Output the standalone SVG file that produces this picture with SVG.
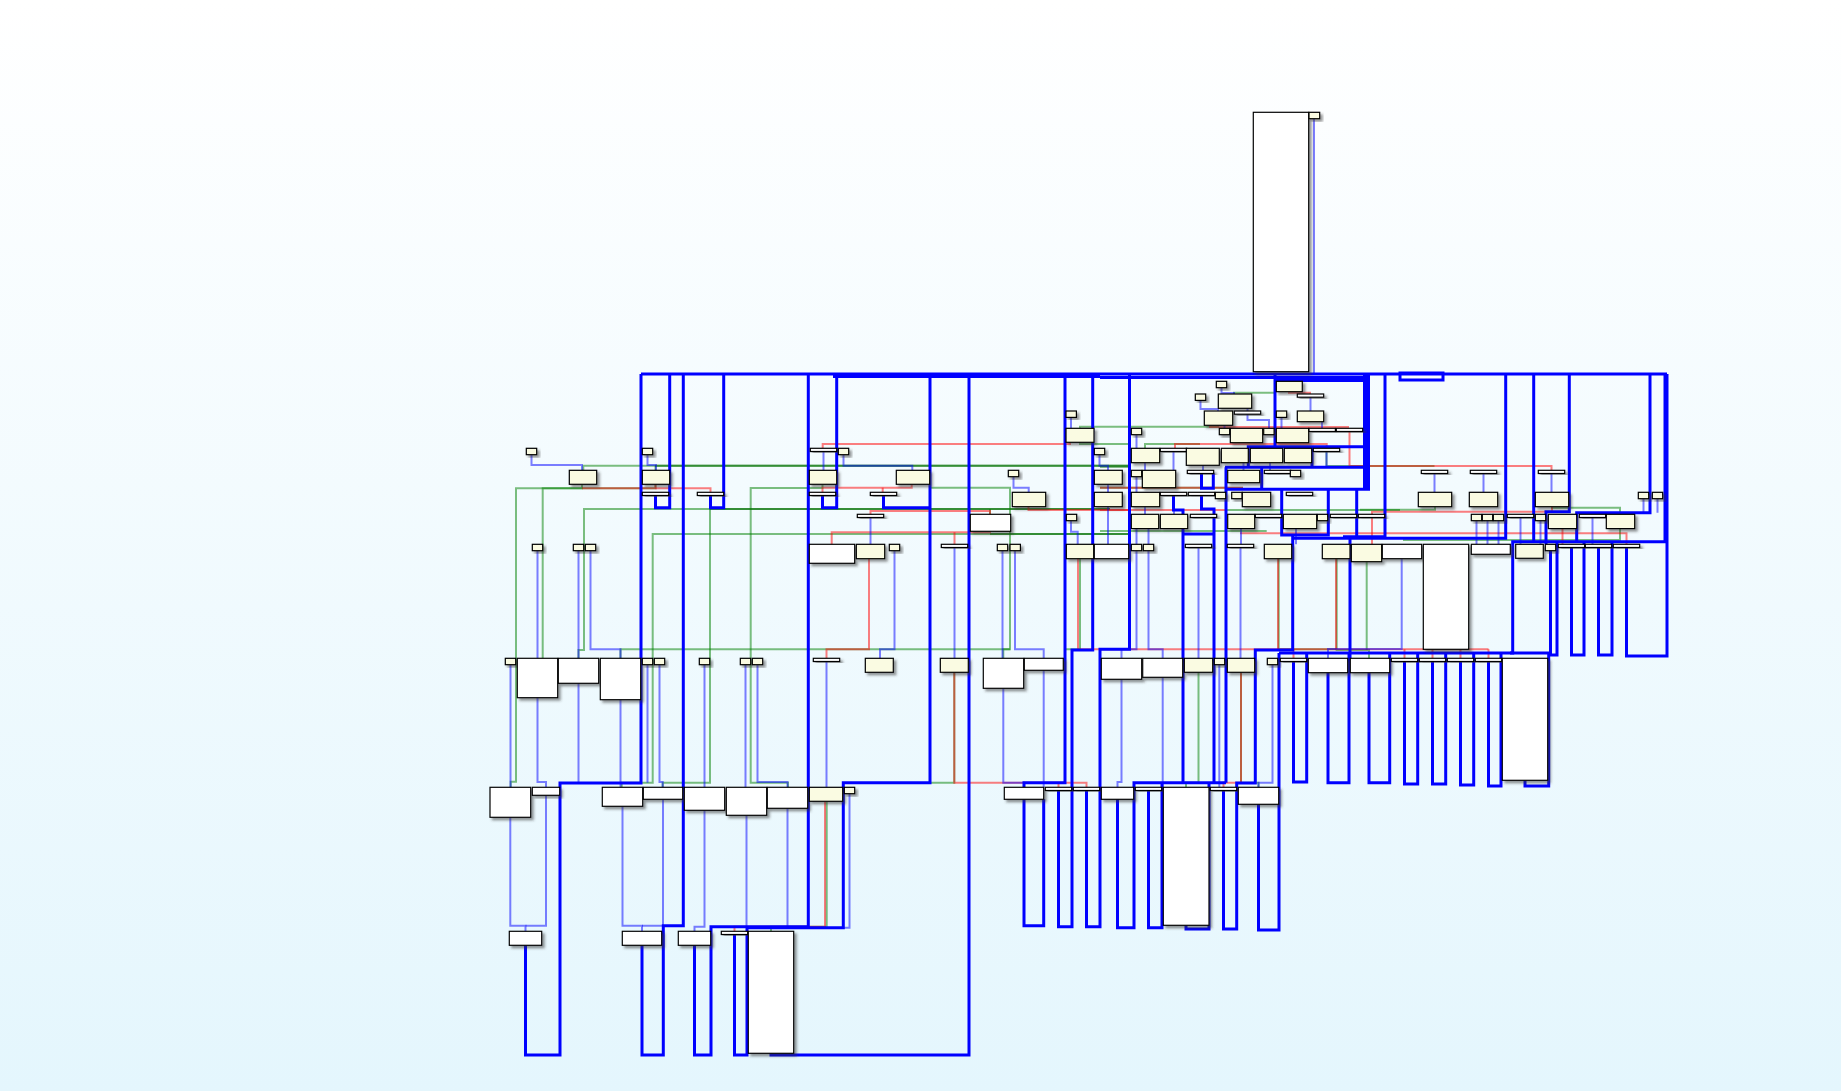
<svg xmlns="http://www.w3.org/2000/svg" width="1841" height="1091" viewBox="0 0 1841 1091">
<defs>
<linearGradient id="bg" x1="0" y1="0" x2="0" y2="1"><stop offset="0" stop-color="#ffffff"/><stop offset="1" stop-color="#e4f6fd"/></linearGradient>
<filter id="ds" x="-20%" y="-20%" width="160%" height="160%"><feDropShadow dx="2.5" dy="2.5" stdDeviation="1" flood-color="#333" flood-opacity="0.5"/></filter>
<style>
.w{fill:#fff;stroke:#000;stroke-width:1.2}
.y{fill:#fafbe2;stroke:#000;stroke-width:1.2}
.nd{filter:url(#ds)}
.B{fill:none;stroke:#00f;stroke-width:3}
.L{fill:none;stroke:#00f;stroke-opacity:.5;stroke-width:2}
.G{fill:none;stroke:#008000;stroke-opacity:.5;stroke-width:2}
.R{fill:none;stroke:#f00;stroke-opacity:.5;stroke-width:2}
.D{fill:none;stroke:#1e7e1e;stroke-opacity:.75;stroke-width:2}
</style>
</defs>
<rect width="1841" height="1091" fill="url(#bg)"/>
<g id="connectors">
<path class="G" d="M583.3,470.3V465.7H1131"/>
<path class="D" d="M655,465.7H1131"/>
<path class="G" d="M655.5,465.7V470.3"/>
<path class="G" d="M582,484.3V488.3H516V781.7H510.7V787.3"/>
<path class="G" d="M655.5,484.3V488.3H542.7V658.3"/>
<path class="G" d="M1110,509H584V650H578.5V658.3"/>
<path class="D" d="M710,509H1110"/>
<path class="G" d="M1130,534H652.7V782.7H621.7V787.3"/>
<path class="D" d="M990,534H1130"/>
<path class="G" d="M822.5,484.3V488H750.7V782.7H788V787.3"/>
<path class="G" d="M710,509V782.7H662.7V787.3"/>
<path class="G" d="M929.7,487.7H1010V649.3H620.5V658.3"/>
<path class="G" d="M1010,649.3H1003.3V658.3"/>
<path class="G" d="M1080,442.3V444H1131"/>
<path class="G" d="M990,509V514.3"/>
<path class="G" d="M954.3,672.3V782.7H931"/>
<path class="G" d="M826.7,801.3V926.7H771V931.3"/>
<path class="G" d="M1198.5,672.3V782.7H1186V787.3"/>
<path class="G" d="M1241,672.3V782.7H1258.5V787.3"/>
<path class="G" d="M1336.7,558.7V650H1369V658.3"/>
<path class="G" d="M1366.7,561.7V650"/>
<path class="G" d="M1234,394V392.7H1275"/>
<path class="G" d="M1218,425.3V426.7H1080V428.3"/>
<path class="G" d="M1145,448.3V444H1200"/>
<path class="D" d="M1100,466.7H1131"/>
<path class="G" d="M1100,487.7H1243"/>
<path class="G" d="M1227,510H1400"/>
<path class="G" d="M1100,531H1266.7"/>
<path class="G" d="M1326.5,451.3V466H1434.5"/>
<path class="G" d="M1435,506.7V509.7H1360"/>
<path class="G" d="M1552,506.7V507.7H1620V514.3"/>
<path class="G" d="M1080,558.7V649.3H1065"/>
<path class="G" d="M1278.7,558.7V649.3H1336"/>
<path class="G" d="M1620,528.3V540H1403"/>
<path class="R" d="M1070,442.3V444H822.7V448.3"/>
<path class="R" d="M655.5,484.3V488.3H582"/>
<path class="R" d="M655.5,488.3H710.5V492.3"/>
<path class="R" d="M911.7,484.3V487.7H822.5V492.3"/>
<path class="R" d="M882.7,487.7V492.3"/>
<path class="R" d="M870.5,514.3V511H990V514.3"/>
<path class="R" d="M1028.5,506.7V510H1131"/>
<path class="R" d="M990,531.3V532.3H831.7V544.3"/>
<path class="R" d="M954.5,532.3V544.3"/>
<path class="R" d="M869,558.7V649.3H826.5V658.3"/>
<path class="R" d="M954.3,672.3V782.7H1086.5V787.3"/>
<path class="R" d="M1058.5,782.7V787.3"/>
<path class="R" d="M825,801.3V926.7H734.5V931.3"/>
<path class="R" d="M1078,558.7V649.3H1488.5"/>
<path class="R" d="M1293.5,649.3V658.3M1404.5,649.3V658.3M1432.5,649.3V658.3M1460.5,649.3V658.3M1488.5,649.3V658.3"/>
<path class="R" d="M1241,672.3V782.7H1223.5V787.3"/>
<path class="R" d="M1289,391.7V392.7H1310V394"/>
<path class="R" d="M1210,425.3V427H1348V428.3"/>
<path class="R" d="M1246.5,442.7V444H1175V448.3M1246.5,444H1326.7V448.3"/>
<path class="R" d="M1100,487.7H1243"/>
<path class="R" d="M1100,510H1227"/>
<path class="R" d="M1240,533.3H1626.5V544.3"/>
<path class="R" d="M1349.5,431.3V466H1551.5V470.3"/>
<path class="R" d="M1552,506.7V511.7H1372V544.3"/>
<path class="R" d="M1278,558.7V649.3"/>
<path class="R" d="M1336,558.7V649.3"/>
<path class="R" d="M1562.5,528.3V544.3"/>
<path class="L" d="M1314,118.7V374"/>
<path class="L" d="M531.5,454.3V465H582V470.3"/>
<path class="L" d="M647.5,454.3V465H656V470.3"/>
<path class="L" d="M843.5,454.3V465.7H912.3V470.3"/>
<path class="L" d="M823.5,451.3V470.3"/>
<path class="L" d="M1013.5,476.3V487.7H1028.7V492.3"/>
<path class="L" d="M870.5,517.3V544.3"/>
<path class="L" d="M894.5,550.3V649.3H880V658.3"/>
<path class="L" d="M954.5,547.3V658.3"/>
<path class="L" d="M1002.5,550.3V658.3"/>
<path class="L" d="M1015,550.3V649.3H1043.7V658.3"/>
<path class="L" d="M1071,520.3V531.7H1077.7V544.3"/>
<path class="L" d="M1136.5,550.3V649.3H1121.5V658.3"/>
<path class="L" d="M1148.5,550.3V649.3H1162.7V658.3"/>
<path class="L" d="M1198.5,547.3V658.3"/>
<path class="L" d="M1240.5,547.3V658.3"/>
<path class="L" d="M1401.7,558.7V649H1328V658.3"/>
<path class="L" d="M1003.3,688.3V782.7H1024V787.3"/>
<path class="L" d="M1043.7,670.3V787.3"/>
<path class="L" d="M1121.5,679.3V782H1117.5V787.3"/>
<path class="L" d="M1162.7,677.3V787.3"/>
<path class="L" d="M1219.3,664.3V787.3"/>
<path class="L" d="M1272.5,664.3V782.7H1258.5V787.3"/>
<path class="L" d="M510.5,664.7V787.3"/>
<path class="L" d="M537.5,697.7V782H546V787.3"/>
<path class="L" d="M578.5,683.3V782.7"/>
<path class="L" d="M620.5,699.7V787.3"/>
<path class="L" d="M647.5,664.7V782.7"/>
<path class="L" d="M659.5,664.7V782H662.7V787.3"/>
<path class="L" d="M704.5,664.7V787.3"/>
<path class="L" d="M745.5,664.7V787.3"/>
<path class="L" d="M757.5,664.7V782H787.5V787.3"/>
<path class="L" d="M826.5,661.3V787.3"/>
<path class="L" d="M510.3,817.3V925.7H525.5V931.3"/>
<path class="L" d="M546,795.3V925.7H525.5"/>
<path class="L" d="M622.5,806.3V925.7H642V931.3"/>
<path class="L" d="M663,799.3V925.7H642"/>
<path class="L" d="M704.5,810.3V926.7H694.5V931.3"/>
<path class="L" d="M746.5,815.3V926.7"/>
<path class="L" d="M787.5,808.3V926.7"/>
<path class="L" d="M849.5,793.3V927.7H843.3"/>
<path class="L" d="M537.5,550.3V658.3"/>
<path class="L" d="M578.5,550.3V658.3"/>
<path class="L" d="M590.5,550.3V649.3H620.5V658.3"/>
<path class="L" d="M1099.5,454.3V465.7H1108V470.3"/>
<path class="L" d="M1108,484.3V492.3"/>
<path class="L" d="M1108,506.7V544.3"/>
<path class="L" d="M1221.5,387.3V393H1234V394"/>
<path class="L" d="M1200.5,400.3V409H1218V411"/>
<path class="L" d="M1310.5,397.3V411"/>
<path class="L" d="M1247.5,408.3V411"/>
<path class="L" d="M1281.5,417.3V428.3"/>
<path class="L" d="M1224.5,425.3V428.3"/>
<path class="L" d="M1247.5,414.3V420H1269V428.3"/>
<path class="L" d="M1322,421.7V428.3"/>
<path class="L" d="M1136.5,434.7V448.3"/>
<path class="L" d="M1203,465.3V470.3"/>
<path class="L" d="M1243.5,462.7V470.3"/>
<path class="L" d="M1270,462.7V470.3"/>
<path class="L" d="M1326.5,451.3V467"/>
<path class="L" d="M1434.5,473.3V492.3M1483.5,473.3V492.3M1551.5,473.3V492.3"/>
<path class="L" d="M1476.5,520.3V544.3M1487.5,520.3V544.3M1498.5,520.3V544.3"/>
<path class="L" d="M1520.5,517.3V544.3M1540.5,520.3V544.3M1592.5,517.3V544.3"/>
<path class="L" d="M1643.5,498.7V512.7M1657.5,498.7V512.7"/>
<path class="L" d="M1071,417.3V428.3"/>
<path class="L" d="M1136.5,476.7V492.3M1145,462.7V470.3M1145,506.7V514.3M1136.5,528.3V544.3M1148.5,528.3V544.3M1174,506.7V514.3M1241,528.3V544.3M1296,528.3V544.3M1173.5,451.3V470.3"/>
<path class="B" d="M641,374H1667"/>
<path class="B" d="M833,376.5H1100"/>
<path class="B" d="M1100,377.5H1370"/>
<path class="B" d="M1275,380.5H1370"/>
<path class="B" d="M1400,373H1443V380H1400Z"/>
<path class="B" d="M525.5,945.3V1055H560V783H641V374"/>
<path class="B" d="M655.5,495.3V507.7H669.7V374"/>
<path class="B" d="M642,945.3V1055H663.3V925.7H683.3V374"/>
<path class="B" d="M710.5,495.3V507.7H723.7V374"/>
<path class="B" d="M822.5,495.3V507.7H836.7V374"/>
<path class="B" d="M883.5,495.3V507.7H930"/>
<path class="B" d="M694.5,945.3V1055H711V926.7H808.3V374"/>
<path class="B" d="M734.5,934.3V1055H747V927.7H843.3V782.7H930V374"/>
<path class="B" d="M771,1053.3V1055H969V374"/>
<path class="B" d="M1065,374V782.7H1024V787.3"/>
<path class="B" d="M1058.5,790.3V926.7H1072V650H1092.7V374"/>
<path class="B" d="M1086.5,790.3V926.7H1100V649.3H1129.5V374"/>
<path class="B" d="M1024,799.3V925.7H1043.7V799.3"/>
<path class="B" d="M1117.5,799.3V927.7H1134V782.7H1226"/>
<path class="B" d="M1148.5,790.3V927.7H1162V782.7"/>
<path class="B" d="M1186,925.3V929H1209V782.7"/>
<path class="B" d="M1173.5,495.3V510H1183V782.7"/>
<path class="B" d="M1201.5,495.3V509H1214V782.7"/>
<path class="B" d="M1183,534H1214"/>
<path class="B" d="M1201.5,473.3V488.3H1213.3V473.3"/>
<path class="B" d="M1226,467.3V782.7"/>
<path class="B" d="M1225,467.3H1368"/>
<path class="B" d="M1226,489.3H1370"/>
<path class="B" d="M1261.7,467.3V489.3"/>
<path class="B" d="M1248.3,467.3V446.7H1366"/>
<path class="B" d="M1312,446.7V467.3"/>
<path class="B" d="M1275,374V446.7"/>
<path class="B" d="M1366.5,374V490" style="stroke-width:7"/>
<path class="B" d="M1281.7,489.3V535H1328.3V489.3"/>
<path class="B" d="M1292.7,535V650H1255.3V783H1236.7V929H1223.5V790.3"/>
<path class="B" d="M1258.5,804.3V930H1279V653"/>
<path class="B" d="M1356.7,489.3V536.7H1385V374"/>
<path class="B" d="M1343,536.7H1356.7M1350,536.7V658.3"/>
<path class="B" d="M1505.7,374V538.3H1292.7"/>
<path class="B" d="M1533.7,374V541.7"/>
<path class="B" d="M1665,374V541.7H1512.7V653H1279"/>
<path class="B" d="M1569.3,374V511.7H1546V544.3"/>
<path class="B" d="M1650,374V512.7H1576.7V541.7"/>
<path class="B" d="M1571.5,547.3V655H1584V541.7"/>
<path class="B" d="M1598.5,547.3V655H1612V541.7"/>
<path class="B" d="M1626.5,547.3V656H1667V374"/>
<path class="B" d="M1550.5,550.7V655H1557V541.7"/>
<path class="B" d="M1293.5,661.3V782H1306.7V653M1328,672.7V782.7H1349V653M1369,672.7V782.7H1389.7V653M1404.5,661.3V784H1417.7V653M1432.5,661.3V784H1445.7V653M1460.5,661.3V785H1473.7V653M1488.5,661.3V786H1501V653M1525,780.3V786H1548.7V653H1510"/>
</g>
<g id="nodes">
<g id="n1" class="nd"><rect class="w" x="1253.3" y="112.3" width="55.4" height="259.4"/></g>
<g id="n2" class="nd"><rect class="y" x="1309" y="112.3" width="10.7" height="6.4"/></g>
<g id="n3" class="nd"><rect class="y" x="1216.3" y="381.3" width="10.4" height="6.4"/></g>
<g id="n4" class="nd"><rect class="y" x="1276.3" y="381.3" width="26" height="10.4"/></g>
<g id="n5" class="nd"><rect class="y" x="1195.3" y="394" width="10.4" height="6.4"/></g>
<g id="n6" class="nd"><rect class="y" x="1218.3" y="394" width="33.4" height="14.3"/></g>
<g id="n7" class="nd"><rect class="w" x="1297.3" y="394" width="26.4" height="3.2"/></g>
<g id="n8" class="nd"><rect class="y" x="1066" y="411" width="10.4" height="6.4"/></g>
<g id="n9" class="nd"><rect class="y" x="1204.3" y="411" width="28.4" height="14.3"/></g>
<g id="n10" class="nd"><rect class="w" x="1234.3" y="411" width="26.4" height="3.2"/></g>
<g id="n11" class="nd"><rect class="y" x="1276.3" y="411" width="10.4" height="6.4"/></g>
<g id="n12" class="nd"><rect class="y" x="1297.3" y="411" width="26.4" height="10.7"/></g>
<g id="n13" class="nd"><rect class="y" x="1066" y="428.3" width="28" height="14"/></g>
<g id="n14" class="nd"><rect class="y" x="1131.3" y="428.3" width="10.4" height="6.4"/></g>
<g id="n15" class="nd"><rect class="y" x="1219.3" y="428.3" width="10.4" height="6.4"/></g>
<g id="n16" class="nd"><rect class="y" x="1230.3" y="428.3" width="32.4" height="14.4"/></g>
<g id="n17" class="nd"><rect class="y" x="1263.7" y="428.3" width="10.4" height="6.4"/></g>
<g id="n18" class="nd"><rect class="y" x="1276.3" y="428.3" width="32.4" height="14.4"/></g>
<g id="n19" class="nd"><rect class="w" x="1309" y="428.3" width="26.4" height="3.2"/></g>
<g id="n20" class="nd"><rect class="w" x="1336.3" y="428.3" width="26.4" height="3.2"/></g>
<g id="n21" class="nd"><rect class="y" x="526.3" y="448.3" width="10.4" height="6.4"/></g>
<g id="n22" class="nd"><rect class="y" x="642.3" y="448.3" width="10.4" height="6.4"/></g>
<g id="n23" class="nd"><rect class="w" x="810.3" y="448.3" width="26.4" height="3.2"/></g>
<g id="n24" class="nd"><rect class="y" x="838.3" y="448.3" width="10.4" height="6.4"/></g>
<g id="n25" class="nd"><rect class="y" x="1094.3" y="448.3" width="10.4" height="6.4"/></g>
<g id="n26" class="nd"><rect class="y" x="1131.3" y="448.3" width="28.4" height="14.4"/></g>
<g id="n27" class="nd"><rect class="w" x="1160.3" y="448.3" width="26.4" height="3.2"/></g>
<g id="n28" class="nd"><rect class="y" x="1186.3" y="448.3" width="33" height="17"/></g>
<g id="n29" class="nd"><rect class="y" x="1221.3" y="448.3" width="27" height="14.4"/></g>
<g id="n30" class="nd"><rect class="y" x="1250.3" y="448.3" width="32.4" height="14.4"/></g>
<g id="n31" class="nd"><rect class="y" x="1284.3" y="448.3" width="27.4" height="14.4"/></g>
<g id="n32" class="nd"><rect class="w" x="1313.3" y="448.3" width="26.4" height="3.2"/></g>
<g id="n33" class="nd"><rect class="y" x="569.3" y="470.3" width="27.4" height="14"/></g>
<g id="n34" class="nd"><rect class="y" x="642.3" y="470.3" width="27.4" height="14"/></g>
<g id="n35" class="nd"><rect class="y" x="809.3" y="470.3" width="27.4" height="14"/></g>
<g id="n36" class="nd"><rect class="y" x="896.3" y="470.3" width="33.4" height="14"/></g>
<g id="n37" class="nd"><rect class="y" x="1008.3" y="470.3" width="10.4" height="6.4"/></g>
<g id="n38" class="nd"><rect class="y" x="1094.3" y="470.3" width="28" height="14"/></g>
<g id="n39" class="nd"><rect class="y" x="1131.3" y="470.3" width="10.4" height="6.4"/></g>
<g id="n40" class="nd"><rect class="y" x="1142.3" y="470.3" width="33.4" height="17.4"/></g>
<g id="n41" class="nd"><rect class="w" x="1187.3" y="470.3" width="26.4" height="3.2"/></g>
<g id="n42" class="nd"><rect class="y" x="1227.7" y="470.3" width="32" height="12.4"/></g>
<g id="n43" class="nd"><rect class="w" x="1264.3" y="470.3" width="26.4" height="3.2"/></g>
<g id="n44" class="nd"><rect class="y" x="1290.3" y="470.3" width="10.4" height="6.4"/></g>
<g id="n45" class="nd"><rect class="w" x="1421.3" y="470.3" width="26.4" height="3.2"/></g>
<g id="n46" class="nd"><rect class="w" x="1470.3" y="470.3" width="26.4" height="3.2"/></g>
<g id="n47" class="nd"><rect class="w" x="1538.3" y="470.3" width="26.4" height="3.2"/></g>
<g id="n48" class="nd"><rect class="w" x="642.3" y="492.3" width="26.4" height="3.2"/></g>
<g id="n49" class="nd"><rect class="w" x="697.3" y="492.3" width="26.4" height="3.2"/></g>
<g id="n50" class="nd"><rect class="w" x="809.3" y="492.3" width="26.4" height="3.2"/></g>
<g id="n51" class="nd"><rect class="w" x="870.3" y="492.3" width="26.4" height="3.2"/></g>
<g id="n52" class="nd"><rect class="y" x="1012.3" y="492.3" width="33.4" height="14.4"/></g>
<g id="n53" class="nd"><rect class="y" x="1094.3" y="492.3" width="28" height="14.4"/></g>
<g id="n54" class="nd"><rect class="y" x="1131.3" y="492.3" width="28.4" height="14.4"/></g>
<g id="n55" class="nd"><rect class="w" x="1160.3" y="492.3" width="26.4" height="3.2"/></g>
<g id="n56" class="nd"><rect class="w" x="1188.3" y="492.3" width="26.4" height="3.2"/></g>
<g id="n57" class="nd"><rect class="y" x="1215.3" y="492.3" width="10.4" height="6.4"/></g>
<g id="n58" class="nd"><rect class="y" x="1231.7" y="492.3" width="10.4" height="6.4"/></g>
<g id="n59" class="nd"><rect class="y" x="1242.3" y="492.3" width="28.4" height="14.4"/></g>
<g id="n60" class="nd"><rect class="w" x="1286.3" y="492.3" width="26.4" height="3.2"/></g>
<g id="n61" class="nd"><rect class="y" x="1418.3" y="492.3" width="33.4" height="14.4"/></g>
<g id="n62" class="nd"><rect class="y" x="1469.3" y="492.3" width="28.4" height="14.4"/></g>
<g id="n63" class="nd"><rect class="y" x="1535.3" y="492.3" width="33.4" height="14.4"/></g>
<g id="n64" class="nd"><rect class="y" x="1638.3" y="492.3" width="10.4" height="6.4"/></g>
<g id="n65" class="nd"><rect class="y" x="1652.3" y="492.3" width="10.4" height="6.4"/></g>
<g id="n66" class="nd"><rect class="w" x="857.3" y="514.3" width="26.4" height="3.2"/></g>
<g id="n67" class="nd"><rect class="w" x="970.3" y="514.3" width="40.4" height="17"/></g>
<g id="n68" class="nd"><rect class="y" x="1066.3" y="514.3" width="10.4" height="6.4"/></g>
<g id="n69" class="nd"><rect class="y" x="1131.3" y="514.3" width="27.4" height="14.3"/></g>
<g id="n70" class="nd"><rect class="y" x="1160.3" y="514.3" width="27.4" height="14.3"/></g>
<g id="n71" class="nd"><rect class="w" x="1190.3" y="514.3" width="26.4" height="3.2"/></g>
<g id="n72" class="nd"><rect class="y" x="1227.7" y="514.3" width="27" height="14.3"/></g>
<g id="n73" class="nd"><rect class="w" x="1255.3" y="514.3" width="26.4" height="3.2"/></g>
<g id="n74" class="nd"><rect class="y" x="1283.3" y="514.3" width="33.4" height="14.3"/></g>
<g id="n75" class="nd"><rect class="y" x="1317.3" y="514.3" width="10.4" height="6.4"/></g>
<g id="n76" class="nd"><rect class="w" x="1330.3" y="514.3" width="26.4" height="3.2"/></g>
<g id="n77" class="nd"><rect class="w" x="1358.3" y="514.3" width="26.4" height="3.2"/></g>
<g id="n78" class="nd"><rect class="y" x="1471.3" y="514.3" width="10.4" height="6.4"/></g>
<g id="n79" class="nd"><rect class="y" x="1482.3" y="514.3" width="10.4" height="6.4"/></g>
<g id="n80" class="nd"><rect class="y" x="1493.3" y="514.3" width="10.4" height="6.4"/></g>
<g id="n81" class="nd"><rect class="w" x="1507.3" y="514.3" width="26.4" height="3.2"/></g>
<g id="n82" class="nd"><rect class="y" x="1535.3" y="514.3" width="10.4" height="6.4"/></g>
<g id="n83" class="nd"><rect class="y" x="1548.3" y="514.3" width="28.4" height="14.3"/></g>
<g id="n84" class="nd"><rect class="w" x="1579.3" y="514.3" width="26.4" height="3.2"/></g>
<g id="n85" class="nd"><rect class="y" x="1606.3" y="514.3" width="28.4" height="14.3"/></g>
<g id="n86" class="nd"><rect class="y" x="532.3" y="544.3" width="10.4" height="6.4"/></g>
<g id="n87" class="nd"><rect class="y" x="573.3" y="544.3" width="10.4" height="6.4"/></g>
<g id="n88" class="nd"><rect class="y" x="585.3" y="544.3" width="10.4" height="6.4"/></g>
<g id="n89" class="nd"><rect class="w" x="809.3" y="544.3" width="45.4" height="19"/></g>
<g id="n90" class="nd"><rect class="y" x="856.3" y="544.3" width="28.4" height="14.4"/></g>
<g id="n91" class="nd"><rect class="y" x="889.3" y="544.3" width="10.4" height="6.4"/></g>
<g id="n92" class="nd"><rect class="w" x="941.3" y="544.3" width="26.4" height="3.2"/></g>
<g id="n93" class="nd"><rect class="y" x="997.3" y="544.3" width="10.4" height="6.4"/></g>
<g id="n94" class="nd"><rect class="y" x="1010" y="544.3" width="10.4" height="6.4"/></g>
<g id="n95" class="nd"><rect class="y" x="1066.3" y="544.3" width="27.4" height="14.4"/></g>
<g id="n96" class="nd"><rect class="w" x="1094.3" y="544.3" width="34.4" height="14.4"/></g>
<g id="n97" class="nd"><rect class="y" x="1131.3" y="544.3" width="10.4" height="6.4"/></g>
<g id="n98" class="nd"><rect class="y" x="1143.3" y="544.3" width="10.4" height="6.4"/></g>
<g id="n99" class="nd"><rect class="w" x="1185.3" y="544.3" width="26.4" height="3.2"/></g>
<g id="n100" class="nd"><rect class="w" x="1227.3" y="544.3" width="26.4" height="3.2"/></g>
<g id="n101" class="nd"><rect class="y" x="1264.3" y="544.3" width="27.4" height="14.4"/></g>
<g id="n102" class="nd"><rect class="y" x="1322.3" y="544.3" width="27.7" height="14.4"/></g>
<g id="n103" class="nd"><rect class="y" x="1351.3" y="544.3" width="30.4" height="17.4"/></g>
<g id="n104" class="nd"><rect class="w" x="1382.3" y="544.3" width="39.4" height="14.4"/></g>
<g id="n105" class="nd"><rect class="w" x="1423.3" y="544.3" width="45.4" height="105"/></g>
<g id="n106" class="nd"><rect class="w" x="1471.3" y="544.3" width="39" height="10"/></g>
<g id="n107" class="nd"><rect class="y" x="1515.7" y="544.3" width="27.6" height="14"/></g>
<g id="n108" class="nd"><rect class="y" x="1545.3" y="544.3" width="10.4" height="6.4"/></g>
<g id="n109" class="nd"><rect class="w" x="1558.3" y="544.3" width="26.4" height="3.2"/></g>
<g id="n110" class="nd"><rect class="w" x="1585.3" y="544.3" width="26.4" height="3.2"/></g>
<g id="n111" class="nd"><rect class="w" x="1613.3" y="544.3" width="26.4" height="3.2"/></g>
<g id="n112" class="nd"><rect class="y" x="505.3" y="658.3" width="10.4" height="6.4"/></g>
<g id="n113" class="nd"><rect class="w" x="517.3" y="658.3" width="40.4" height="39.4"/></g>
<g id="n114" class="nd"><rect class="w" x="558.3" y="658.3" width="40.4" height="25"/></g>
<g id="n115" class="nd"><rect class="w" x="600.3" y="658.3" width="40.4" height="41.4"/></g>
<g id="n116" class="nd"><rect class="y" x="642.3" y="658.3" width="10.4" height="6.4"/></g>
<g id="n117" class="nd"><rect class="y" x="654.3" y="658.3" width="10.4" height="6.4"/></g>
<g id="n118" class="nd"><rect class="y" x="699.3" y="658.3" width="10.4" height="6.4"/></g>
<g id="n119" class="nd"><rect class="y" x="740.3" y="658.3" width="10.4" height="6.4"/></g>
<g id="n120" class="nd"><rect class="y" x="752.3" y="658.3" width="10.4" height="6.4"/></g>
<g id="n121" class="nd"><rect class="w" x="813.3" y="658.3" width="26.4" height="3.2"/></g>
<g id="n122" class="nd"><rect class="y" x="865.3" y="658.3" width="28" height="14"/></g>
<g id="n123" class="nd"><rect class="y" x="940.3" y="658.3" width="28" height="14"/></g>
<g id="n124" class="nd"><rect class="w" x="983.3" y="658.3" width="40.4" height="30"/></g>
<g id="n125" class="nd"><rect class="w" x="1024.3" y="658.3" width="39" height="12"/></g>
<g id="n126" class="nd"><rect class="w" x="1101.3" y="658.3" width="40.4" height="21"/></g>
<g id="n127" class="nd"><rect class="w" x="1142.7" y="658.3" width="40" height="19"/></g>
<g id="n128" class="nd"><rect class="y" x="1184.3" y="658.3" width="28.4" height="14"/></g>
<g id="n129" class="nd"><rect class="y" x="1214.3" y="658.3" width="10.4" height="6.4"/></g>
<g id="n130" class="nd"><rect class="y" x="1227.3" y="658.3" width="27.4" height="14"/></g>
<g id="n131" class="nd"><rect class="y" x="1267.3" y="658.3" width="10.4" height="6.4"/></g>
<g id="n132" class="nd"><rect class="w" x="1280.3" y="658.3" width="26.4" height="3.2"/></g>
<g id="n133" class="nd"><rect class="w" x="1308.3" y="658.3" width="39.4" height="14.4"/></g>
<g id="n134" class="nd"><rect class="w" x="1350.3" y="658.3" width="39.4" height="14.4"/></g>
<g id="n135" class="nd"><rect class="w" x="1391.3" y="658.3" width="26.4" height="3.2"/></g>
<g id="n136" class="nd"><rect class="w" x="1419.3" y="658.3" width="26.4" height="3.2"/></g>
<g id="n137" class="nd"><rect class="w" x="1447.3" y="658.3" width="26.4" height="3.2"/></g>
<g id="n138" class="nd"><rect class="w" x="1475.3" y="658.3" width="26.4" height="3.2"/></g>
<g id="n139" class="nd"><rect class="w" x="1502.3" y="658.3" width="45.4" height="122"/></g>
<g id="n140" class="nd"><rect class="w" x="490" y="787.3" width="40.7" height="30"/></g>
<g id="n141" class="nd"><rect class="w" x="532.3" y="787.3" width="27.4" height="8"/></g>
<g id="n142" class="nd"><rect class="w" x="602.3" y="787.3" width="40.4" height="19"/></g>
<g id="n143" class="nd"><rect class="w" x="643.3" y="787.3" width="39.4" height="12"/></g>
<g id="n144" class="nd"><rect class="w" x="684.3" y="787.3" width="40.4" height="23"/></g>
<g id="n145" class="nd"><rect class="w" x="726.3" y="787.3" width="40.4" height="28"/></g>
<g id="n146" class="nd"><rect class="w" x="767.3" y="787.3" width="40.4" height="21"/></g>
<g id="n147" class="nd"><rect class="y" x="809.3" y="787.3" width="33.4" height="14"/></g>
<g id="n148" class="nd"><rect class="y" x="844.3" y="787.3" width="10.4" height="6.4"/></g>
<g id="n149" class="nd"><rect class="w" x="1004.3" y="787.3" width="39.4" height="12"/></g>
<g id="n150" class="nd"><rect class="w" x="1045.3" y="787.3" width="26.4" height="3.2"/></g>
<g id="n151" class="nd"><rect class="w" x="1073.3" y="787.3" width="26.4" height="3.2"/></g>
<g id="n152" class="nd"><rect class="w" x="1101.3" y="787.3" width="32.4" height="12"/></g>
<g id="n153" class="nd"><rect class="w" x="1135.3" y="787.3" width="26.4" height="3.2"/></g>
<g id="n154" class="nd"><rect class="w" x="1163.3" y="787.3" width="45.7" height="138"/></g>
<g id="n155" class="nd"><rect class="w" x="1210.3" y="787.3" width="26.4" height="3.2"/></g>
<g id="n156" class="nd"><rect class="w" x="1238.3" y="787.3" width="40.4" height="17"/></g>
<g id="n157" class="nd"><rect class="w" x="509.3" y="931.3" width="32.4" height="14"/></g>
<g id="n158" class="nd"><rect class="w" x="622.3" y="931.3" width="39.4" height="14"/></g>
<g id="n159" class="nd"><rect class="w" x="678.3" y="931.3" width="32.4" height="14"/></g>
<g id="n160" class="nd"><rect class="w" x="721.3" y="931.3" width="26.4" height="3.2"/></g>
<g id="n161" class="nd"><rect class="w" x="748.3" y="931.3" width="45.4" height="122"/></g>
</g>
</svg>
